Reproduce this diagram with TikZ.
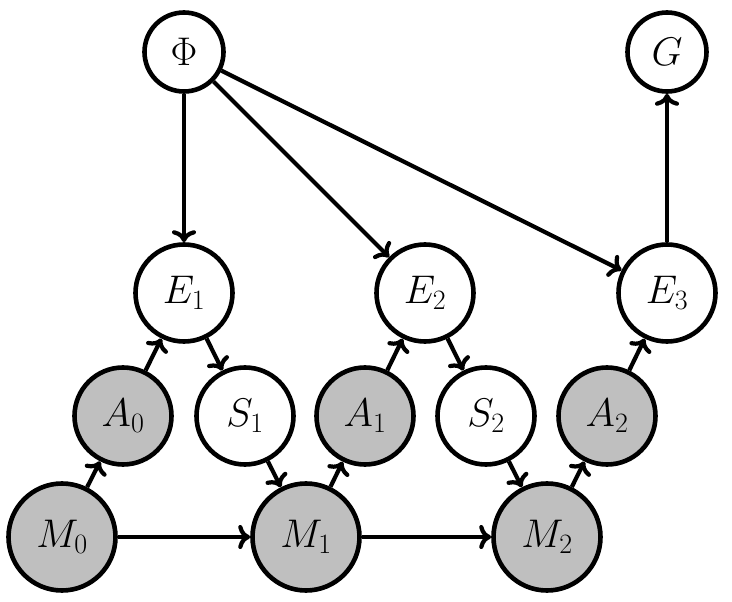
\documentclass[tikz,border=0pt]{standalone}
\usepackage{fix-cm}
\usetikzlibrary{arrows.meta}
\tikzset{
  var/.style={circle, draw=black, line width=4.6pt, inner sep=0pt, font=\fontsize{40}{48}\selectfont},
  small/.style={var, minimum size=79pt},
  mid/.style={var, minimum size=97pt},
  big/.style={var, minimum size=107pt},
  obs/.style={fill=black!25},
  link/.style={line width=4.2pt, -{To[length=12pt,width=24pt,line width=4.2pt]}}
}
\begin{document}
\begin{tikzpicture}[x=1pt,y=-1pt]
\useasboundingbox (0,0) rectangle (732,602);
\node[small] (Phi) at (184,52) {$\Phi$};
\node[small] (G) at (667,52) {$G$};
\node[mid] (E1) at (184,293) {$E_1$};
\node[mid] (E2) at (425,293) {$E_2$};
\node[mid] (E3) at (667,293) {$E_3$};
\node[mid,obs] (A0) at (123,416) {$A_0$};
\node[mid] (S1) at (245,416) {$S_1$};
\node[mid,obs] (A1) at (365,416) {$A_1$};
\node[mid] (S2) at (486,416) {$S_2$};
\node[mid,obs] (A2) at (607,416) {$A_2$};
\node[big,obs] (M0) at (62,537) {$M_0$};
\node[big,obs] (M1) at (306,537) {$M_1$};
\node[big,obs] (M2) at (547,537) {$M_2$};
\draw[link] (Phi) -- (E1);
\draw[link] (Phi) -- (E2);
\draw[link] (Phi) -- (E3);
\draw[link] (E3) -- (G);
\draw[link] (M0) -- (A0);
\draw[link] (A0) -- (E1);
\draw[link] (E1) -- (S1);
\draw[link] (S1) -- (M1);
\draw[link] (M0) -- (M1);
\draw[link] (M1) -- (A1);
\draw[link] (A1) -- (E2);
\draw[link] (E2) -- (S2);
\draw[link] (S2) -- (M2);
\draw[link] (M1) -- (M2);
\draw[link] (M2) -- (A2);
\draw[link] (A2) -- (E3);
\end{tikzpicture}
\end{document}
